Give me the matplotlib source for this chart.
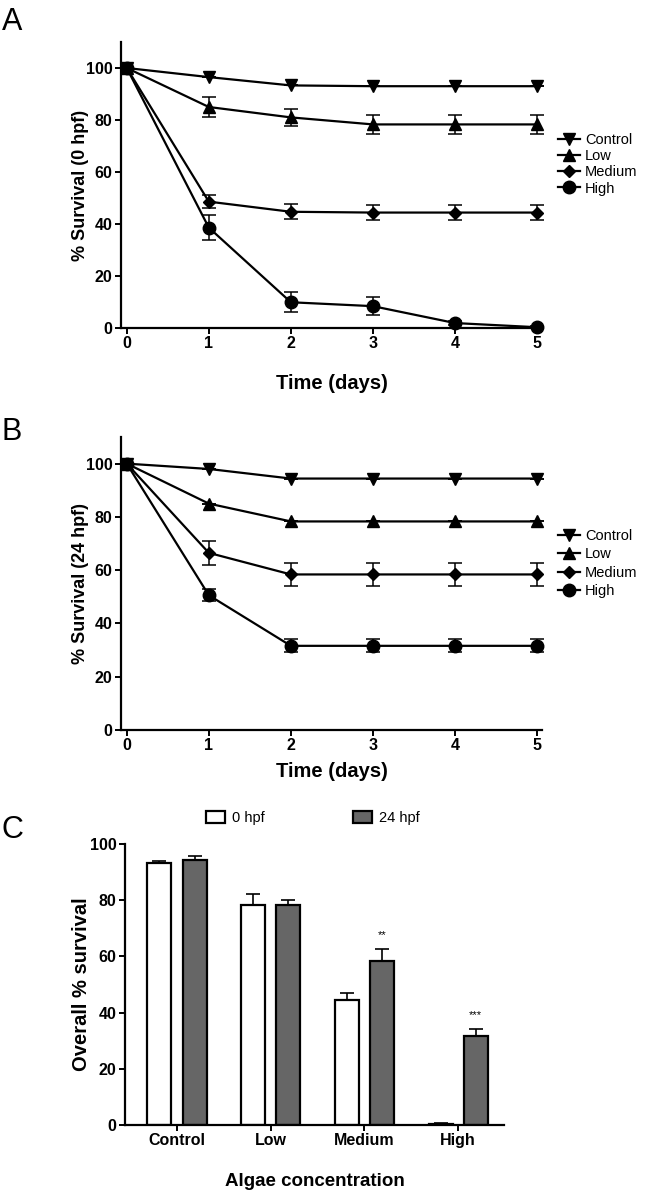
import matplotlib
matplotlib.use('Agg')
import matplotlib.pyplot as plt
import numpy as np
from matplotlib.patches import Patch
from matplotlib.lines import Line2D

plt.rcParams['font.family'] = ['Liberation Sans', 'DejaVu Sans']

# ---- data ----
DAYS = [0, 1, 2, 3, 4, 5]
GROUPS = ['Control', 'Low', 'Medium', 'High']
MARKERS = {'Control': 'v', 'Low': '^', 'Medium': 'D', 'High': 'o'}
MSIZE = {'Control': 9, 'Low': 9, 'Medium': 6.5, 'High': 9}

# panel A: survival, exposure from 0 hpf
ctrl_a = [100, 96.5, 93.3, 93.0, 93.0, 93.0]
ctrl_a_err = [0, 0, 0, 0, 0, 0]
low_a = [100, 85.0, 81.0, 78.3, 78.3, 78.3]
low_a_err = [0, 4.0, 3.3, 3.8, 3.8, 3.8]
med_a = [100, 48.6, 44.7, 44.4, 44.4, 44.4]
med_a_err = [0, 2.5, 2.9, 2.9, 2.9, 2.9]
high_a = [100, 38.6, 9.9, 8.4, 1.9, 0.3]
high_a_err = [0, 4.8, 3.8, 3.5, 0.8, 0.3]

# panel B: survival, exposure from 24 hpf
ctrl_b = [100, 98.0, 94.4, 94.4, 94.4, 94.4]
ctrl_b_err = [0, 0, 0, 0, 0, 0]
low_b = [100, 85.0, 78.3, 78.3, 78.3, 78.3]
low_b_err = [0, 0, 0, 0, 0, 0]
med_b = [100, 66.5, 58.4, 58.4, 58.4, 58.4]
med_b_err = [0, 4.4, 4.4, 4.4, 4.4, 4.4]
high_b = [100, 50.6, 31.6, 31.6, 31.6, 31.6]
high_b_err = [0, 2.2, 2.5, 2.5, 2.5, 2.5]

# panel C: overall survival
hpf0 = [93.2, 78.4, 44.5, 0.4]
hpf0_err = [0.9, 3.8, 2.6, 0.3]
hpf24 = [94.4, 78.4, 58.4, 31.7]
hpf24_err = [1.2, 1.8, 4.3, 2.4]
stars = ['', '', '**', '***']

W, H = 650, 1193


def px_axes(fig, x0, y0, x1, y1):
    """Axes from pixel box (top-left origin)."""
    return fig.add_axes([x0 / W, 1 - y1 / H, (x1 - x0) / W, (y1 - y0) / H])


def style_axes(ax):
    for s in ['top', 'right']:
        ax.spines[s].set_visible(False)
    for s in ['left', 'bottom']:
        ax.spines[s].set_linewidth(1.6)
    ax.tick_params(direction='out', length=4.5, width=1.4, pad=1.5)
    for lab in ax.get_xticklabels() + ax.get_yticklabels():
        lab.set_fontweight('bold')
        lab.set_fontsize(11.5)


def survival_panel(fig, box, series, ylabel, xlabel_pad, leg_top, leg_space):
    ax = px_axes(fig, *box)
    for name, (vals, errs) in zip(GROUPS, series):
        ax.errorbar(DAYS, vals, yerr=errs, color='black', lw=1.6,
                    marker=MARKERS[name], ms=MSIZE[name], capsize=5,
                    elinewidth=1.1, capthick=1.1, clip_on=False, zorder=3,
                    label=name)
    ax.set_xlim(-0.07, 5.06)
    ax.set_ylim(0, 110)
    ax.set_xticks(DAYS)
    ax.set_yticks([0, 20, 40, 60, 80, 100])
    ax.set_ylabel(ylabel, fontsize=13, fontweight='bold')
    ax.yaxis.set_label_coords((89 - box[0]) / (box[2] - box[0]), 0.5)
    ax.set_xlabel('Time (days)', fontsize=14.5, fontweight='bold', labelpad=xlabel_pad)
    style_axes(ax)
    handles = [Line2D([0], [0], color='black', lw=1.6, marker=MARKERS[g], ms=MSIZE[g])
               for g in GROUPS]
    ax.legend(handles, GROUPS, loc='upper left',
              bbox_to_anchor=(558 / W, 1 - leg_top / H), bbox_transform=fig.transFigure,
              frameon=False, handlelength=1.5, handletextpad=0.35, borderpad=0,
              borderaxespad=0, labelspacing=leg_space, prop={'size': 10.5})
    return ax


fig = plt.figure(figsize=(6.5, 11.93), dpi=100)

# Panel A
survival_panel(fig, (121, 42, 542, 328),
               [(ctrl_a, ctrl_a_err), (low_a, low_a_err),
                (med_a, med_a_err), (high_a, high_a_err)],
               '% Survival (0 hpf)', 16, 133, 0.15)
fig.text(12 / W, 1 - 22 / H, 'A', fontsize=22, ha='center', va='center')

# Panel B
survival_panel(fig, (121, 437, 542, 730),
               [(ctrl_b, ctrl_b_err), (low_b, low_b_err),
                (med_b, med_b_err), (high_b, high_b_err)],
               '% Survival (24 hpf)', 6, 529, 0.3)
fig.text(12 / W, 1 - 432 / H, 'B', fontsize=22, ha='center', va='center')

# Panel C
axc = px_axes(fig, 125, 844, 504, 1125)
x = np.arange(len(GROUPS))
bw = 0.256
off = 0.187
zeros = [0] * len(GROUPS)
axc.bar(x - off, hpf0, bw, color='white', edgecolor='black', lw=1.6, zorder=2)
axc.errorbar(x - off, hpf0, yerr=[zeros, hpf0_err], fmt='none', ecolor='black',
             elinewidth=1.2, capsize=5, capthick=1.2, zorder=1)
axc.bar(x + off, hpf24, bw, color='#666666', edgecolor='black', lw=1.6, zorder=2)
axc.errorbar(x + off, hpf24, yerr=[zeros, hpf24_err], fmt='none', ecolor='black',
             elinewidth=1.2, capsize=5, capthick=1.2, zorder=1)
for xi, v, e, s in zip(x, hpf24, hpf24_err, stars):
    if s:
        axc.text(xi + off, v + e + 3.2, s, ha='center', va='bottom', fontsize=8)
axc.set_xlim(-0.555, 3.49)
axc.set_ylim(0, 100)
axc.set_xticks(x)
axc.set_xticklabels(GROUPS)
axc.set_yticks([0, 20, 40, 60, 80, 100])
axc.set_ylabel('Overall % survival', fontsize=14.5, fontweight='bold')
axc.yaxis.set_label_coords((91 - 125) / (504 - 125), 0.5)
axc.set_xlabel('Algae concentration', fontsize=13.5, fontweight='bold', labelpad=18)
style_axes(axc)
axc.legend([Patch(facecolor='white', edgecolor='black', lw=1.6),
            Patch(facecolor='#666666', edgecolor='black', lw=1.6)],
           ['0 hpf', '24 hpf'], loc='center left', bbox_to_anchor=(206 / W, 1 - 818 / H),
           bbox_transform=fig.transFigure, ncol=2, frameon=False, columnspacing=6.05,
           handlelength=1.3, handleheight=0.8, handletextpad=0.5, borderpad=0,
           borderaxespad=0, prop={'size': 10.5})
fig.text(12 / W, 1 - 830 / H, 'C', fontsize=22, ha='center', va='center')

fig.savefig('out.png', dpi=100)
